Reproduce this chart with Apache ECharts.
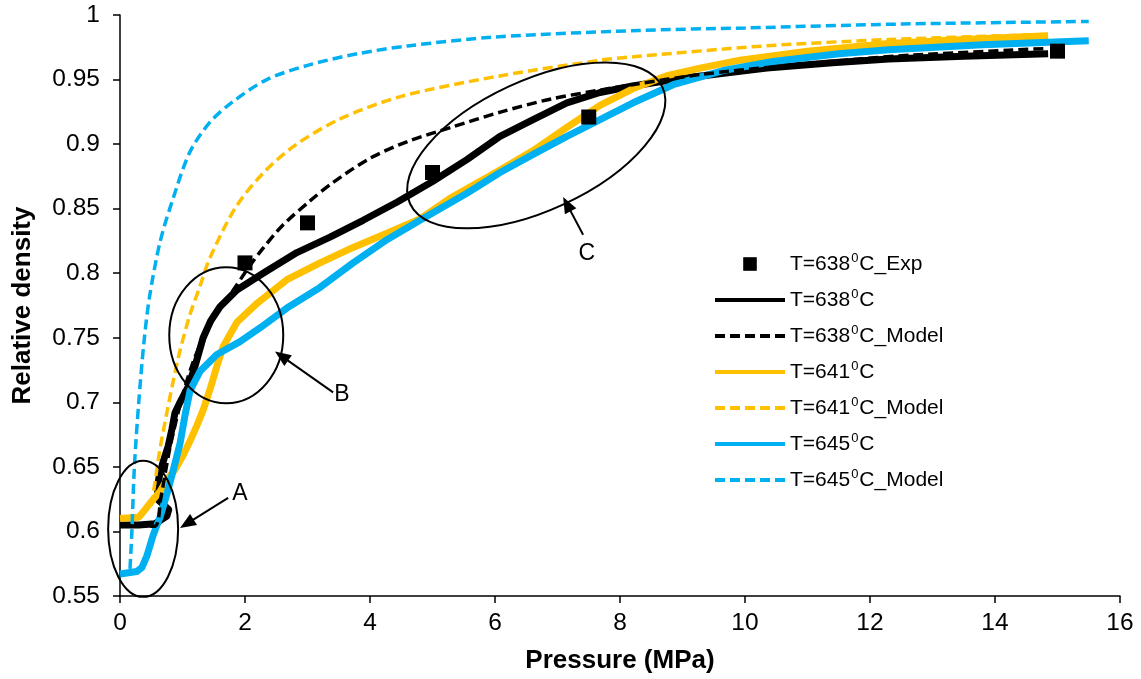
<!DOCTYPE html>
<html>
<head>
<meta charset="utf-8">
<script src="https://cdn.jsdelivr.net/npm/echarts@6/dist/echarts.min.js"></script>
<style>
  html, body { margin: 0; padding: 0; background: #fff; }
  #chart { width: 1141px; height: 679px; }
</style>
</head>
<body>
<div id="chart"></div>
<script>
// Series names (⁰ is drawn as a raised small "0")
const seriesNames = [
  'T=638⁰C_Exp', 'T=638⁰C', 'T=638⁰C_Model',
  'T=641⁰C', 'T=641⁰C_Model', 'T=645⁰C', 'T=645⁰C_Model'
];

// Measured points, pressure (MPa) vs relative density
const exp638 = [[2, 0.808], [3, 0.839], [5, 0.878], [7.5, 0.921], [15, 0.972]];

// Densification records
const rec638 = [
  [0, 0.605], [0.3, 0.605], [0.56, 0.606], [0.75, 0.612], [0.78, 0.617], [0.62, 0.624],
  [0.6, 0.632], [0.62, 0.641], [0.69, 0.654], [0.77, 0.666], [0.83, 0.679], [0.88, 0.692],
  [0.96, 0.700], [1.1, 0.713], [1.2, 0.728], [1.33, 0.750], [1.45, 0.763], [1.6, 0.774],
  [1.87, 0.787], [2.29, 0.800], [2.83, 0.816], [3.36, 0.828], [3.89, 0.841], [4.43, 0.855],
  [5.0, 0.871], [5.55, 0.888], [6.08, 0.906], [6.61, 0.919], [7.15, 0.932], [7.68, 0.940],
  [8.2, 0.945], [9.0, 0.951], [10.35, 0.959], [11.4, 0.963], [12.3, 0.966], [13.5, 0.968],
  [14.85, 0.970]
];
const rec641 = [
  [0, 0.610], [0.3, 0.611], [0.37, 0.615], [0.5, 0.623], [0.64, 0.631], [0.75, 0.640],
  [0.88, 0.648], [1.0, 0.658], [1.12, 0.670], [1.23, 0.682], [1.33, 0.694], [1.44, 0.710],
  [1.55, 0.728], [1.65, 0.743], [1.87, 0.762], [2.2, 0.777], [2.67, 0.795], [3.2, 0.808],
  [3.73, 0.820], [4.27, 0.831], [4.8, 0.842], [5.28, 0.858], [6.08, 0.880], [6.61, 0.895],
  [7.15, 0.913], [7.68, 0.930], [8.21, 0.943], [8.75, 0.953], [9.3, 0.959], [9.92, 0.965],
  [11.0, 0.972], [12.3, 0.978], [13.5, 0.981], [14.85, 0.984]
];
const rec645 = [
  [0, 0.567], [0.27, 0.569], [0.35, 0.572], [0.43, 0.581], [0.53, 0.597], [0.64, 0.611],
  [0.75, 0.629], [0.85, 0.647], [0.96, 0.668], [1.04, 0.690], [1.12, 0.709], [1.28, 0.724],
  [1.55, 0.737], [1.92, 0.747], [2.25, 0.758], [2.67, 0.773], [3.2, 0.789], [3.73, 0.808],
  [4.27, 0.826], [4.8, 0.841], [5.55, 0.862], [6.08, 0.878], [6.61, 0.892], [7.15, 0.906],
  [7.68, 0.919], [8.21, 0.932], [8.85, 0.946], [9.65, 0.957], [10.45, 0.964], [11.5, 0.970],
  [12.3, 0.973], [13.8, 0.977], [15.5, 0.980]
];

// Model predictions
const model638 = [
  [0, 0.604], [0.55, 0.604], [0.65, 0.625], [0.8, 0.665], [1.0, 0.705], [1.2, 0.735],
  [1.5, 0.765], [1.8, 0.786], [2.08, 0.806], [2.3, 0.820], [2.6, 0.837], [3.04, 0.856],
  [3.4, 0.870], [4.0, 0.889], [4.6, 0.902], [5.3, 0.913], [6.1, 0.925], [6.9, 0.935],
  [7.7, 0.942], [8.2, 0.946], [9.3, 0.954], [10.5, 0.960], [11.6, 0.965], [12.7, 0.969],
  [14.8, 0.974]
];
const model641 = [
  [0.5, 0.620], [0.55, 0.635], [0.64, 0.664], [0.75, 0.692], [0.85, 0.716], [0.96, 0.740],
  [1.12, 0.768], [1.28, 0.790], [1.44, 0.812], [1.85, 0.851], [2.3, 0.878], [2.8, 0.899],
  [3.5, 0.919], [4.5, 0.937], [6.1, 0.953], [7.7, 0.965], [8.3, 0.968], [10.3, 0.976],
  [12.3, 0.981], [14.9, 0.985]
];
const model645 = [
  [0.16, 0.571], [0.19, 0.600], [0.23, 0.650], [0.3, 0.700], [0.38, 0.745], [0.47, 0.781],
  [0.64, 0.824], [0.85, 0.858], [1.12, 0.894], [1.44, 0.917], [1.81, 0.933], [2.35, 0.950],
  [3.0, 0.961], [3.8, 0.970], [4.6, 0.976], [6.0, 0.983], [8.3, 0.988], [10.0, 0.990],
  [12.5, 0.993], [15.5, 0.995]
];

// Axis ranges
const xMin = 0, xMax = 16, xStep = 2;
const yMin = 0.55, yMax = 1, yStep = 0.05;

// Callouts: ellipse centre in data units, radii in px, arrow tail/tip and letter in data units
const callouts = [
  { text: 'A', centre: [0.37, 0.602], rx: 35, ry: 68, angle: 0,
    tail: [1.73, 0.626], tip: [0.96, 0.6026], letter: [1.92, 0.629] },
  { text: 'B', centre: [1.70, 0.752], rx: 57, ry: 68, angle: 0,
    tail: [3.41, 0.7077], tip: [2.48, 0.7394], letter: [3.55, 0.706] },
  { text: 'C', centre: [6.66, 0.899], rx: 139, ry: 65, angle: 24.8,
    tail: [7.41, 0.8298], tip: [7.09, 0.859], letter: [7.47, 0.815] }
];

const BLACK = '#000000', GOLD = '#FFC000', CYAN = '#00B0F0';
const FONT = "'Liberation Sans', Arial, sans-serif";

const chart = echarts.init(document.getElementById('chart'), null, { renderer: 'canvas' });

function recordSeries(name, data, color) {
  return {
    name, type: 'line', data, showSymbol: false, symbol: 'none', smooth: false,
    lineStyle: { color, width: 7, join: 'round' }, itemStyle: { color },
    z: 2, silent: true
  };
}
function modelSeries(name, data, color) {
  return {
    name, type: 'line', data, showSymbol: false, symbol: 'none', smooth: 0.3,
    lineStyle: { color, width: 3.5, type: [10, 5] }, itemStyle: { color },
    z: 3, silent: true
  };
}
function lineKey(name) {
  return { name, lineStyle: { width: 4 }, itemStyle: { opacity: 0 } };
}

const option = {
  animation: false,
  backgroundColor: '#ffffff',
  textStyle: { fontFamily: FONT },
  grid: { left: 120, right: 21, top: 15, bottom: 82, containLabel: false },
  xAxis: {
    type: 'value', min: xMin, max: xMax, interval: xStep,
    name: 'Pressure (MPa)', nameLocation: 'middle', nameGap: 52,
    nameTextStyle: { fontSize: 26, fontWeight: 'bold', color: BLACK, fontFamily: FONT },
    axisLine: { show: true, lineStyle: { color: BLACK, width: 1.5 } },
    axisTick: { show: true, inside: false, length: 7, lineStyle: { color: BLACK, width: 1.5 } },
    axisLabel: { fontSize: 24.5, color: BLACK, margin: 15, fontFamily: FONT },
    splitLine: { show: false }
  },
  yAxis: {
    type: 'value', min: yMin, max: yMax, interval: yStep,
    name: 'Relative density', nameLocation: 'middle', nameGap: 84, nameRotate: 90,
    nameTextStyle: { fontSize: 26, fontWeight: 'bold', color: BLACK, fontFamily: FONT },
    axisLine: { show: true, lineStyle: { color: BLACK, width: 1.5 } },
    axisTick: { show: true, inside: false, length: 7, lineStyle: { color: BLACK, width: 1.5 } },
    axisLabel: { fontSize: 24.5, color: BLACK, margin: 20, fontFamily: FONT },
    splitLine: { show: false }
  },
  legend: {
    orient: 'vertical', left: 708, top: 247,
    itemWidth: 70, itemHeight: 17, itemGap: 12,
    textStyle: {
      fontSize: 21, color: BLACK, fontFamily: FONT, lineHeight: 24,
      rich: { sup: { fontSize: 13, lineHeight: 24, verticalAlign: 'top', padding: [0, 1, 0, 1], fontFamily: FONT, color: BLACK } }
    },
    formatter: name => name.replace('⁰', '{sup|0}'),
    data: [
      { name: seriesNames[0], lineStyle: { opacity: 0, width: 0 } },
      lineKey(seriesNames[1]), lineKey(seriesNames[2]), lineKey(seriesNames[3]),
      lineKey(seriesNames[4]), lineKey(seriesNames[5]), lineKey(seriesNames[6])
    ]
  },
  series: [
    recordSeries(seriesNames[1], rec638, BLACK),
    modelSeries(seriesNames[2], model638, BLACK),
    recordSeries(seriesNames[3], rec641, GOLD),
    modelSeries(seriesNames[4], model641, GOLD),
    recordSeries(seriesNames[5], rec645, CYAN),
    modelSeries(seriesNames[6], model645, CYAN),
    {
      name: seriesNames[0], type: 'line', data: exp638,
      symbol: 'rect', symbolSize: 15, showSymbol: true,
      lineStyle: { opacity: 0, width: 0 }, itemStyle: { color: BLACK },
      z: 6, silent: true
    }
  ]
};
chart.setOption(option);

// Callout ellipses, arrows and letters placed through the axis scales
function arrowHead(tail, tip, len, half) {
  const dx = tip[0] - tail[0], dy = tip[1] - tail[1];
  const d = Math.hypot(dx, dy) || 1;
  const ux = dx / d, uy = dy / d;
  const bx = tip[0] - ux * len, by = tip[1] - uy * len;
  return [[tip[0], tip[1]], [bx - uy * half, by + ux * half], [bx + uy * half, by - ux * half]];
}
const toPx = p => chart.convertToPixel({ gridIndex: 0 }, p);
const graphics = [];
callouts.forEach(c => {
  const ctr = toPx(c.centre);
  const tail = toPx(c.tail), tip = toPx(c.tip), lt = toPx(c.letter);
  const head = arrowHead(tail, tip, 16, 6.5);
  const d = Math.hypot(tip[0] - tail[0], tip[1] - tail[1]);
  const shaftEnd = [tip[0] - (tip[0] - tail[0]) * 12 / d, tip[1] - (tip[1] - tail[1]) * 12 / d];
  graphics.push({
    type: 'ellipse', x: ctr[0], y: ctr[1], rotation: c.angle * Math.PI / 180,
    shape: { cx: 0, cy: 0, rx: c.rx, ry: c.ry },
    style: { fill: 'none', stroke: BLACK, lineWidth: 2 }, z: 10, silent: true
  });
  graphics.push({
    type: 'line', shape: { x1: tail[0], y1: tail[1], x2: shaftEnd[0], y2: shaftEnd[1] },
    style: { stroke: BLACK, lineWidth: 2 }, z: 10, silent: true
  });
  graphics.push({
    type: 'polygon', shape: { points: head },
    style: { fill: BLACK, stroke: 'none' }, z: 10, silent: true
  });
  graphics.push({
    type: 'text', x: lt[0], y: lt[1],
    style: { text: c.text, fontSize: 23, fontFamily: FONT, fill: BLACK, align: 'center', verticalAlign: 'middle' },
    z: 10, silent: true
  });
});
chart.setOption({ graphic: graphics });
</script>
</body>
</html>
